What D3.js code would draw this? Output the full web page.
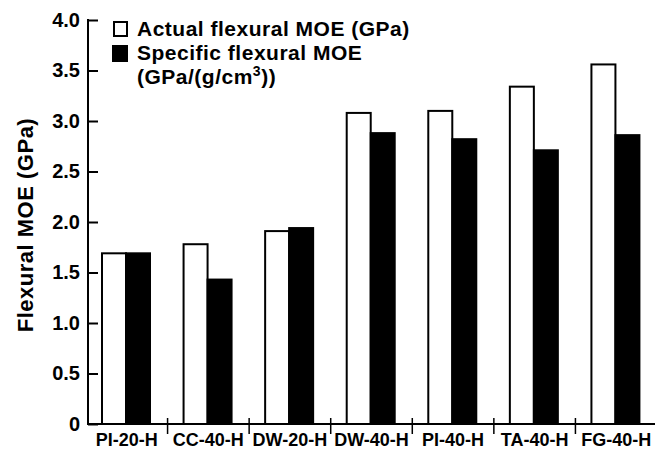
<!DOCTYPE html>
<html>
<head>
<meta charset="utf-8">
<script src="https://cdn.jsdelivr.net/npm/d3@7"></script>
<style>
  body { margin: 0; background: #fff; }
  svg { display: block; font-family: "Liberation Sans", Arial, sans-serif; }
</style>
</head>
<body>
<svg id="chart"></svg>
<script>
// data
var categories = ["PI-20-H", "CC-40-H", "DW-20-H", "DW-40-H", "PI-40-H", "TA-40-H", "FG-40-H"];
var seriesNames = ["actual", "specific"];
var actualMOE = [1.69, 1.78, 1.91, 3.08, 3.10, 3.34, 3.56];
var specificMOE = [1.69, 1.43, 1.94, 2.88, 2.82, 2.71, 2.86];
var yTicks = [0, 0.5, 1.0, 1.5, 2.0, 2.5, 3.0, 3.5, 4.0];

var width = 661, height = 458;

var svg = d3.select('#chart')
    .attr("width", width)
    .attr("height", height);

// scales
var x0 = d3.scaleBand().domain(categories).range([86, 657]);
var x1 = d3.scaleBand().domain(seriesNames).range([16, 64]);
var y = d3.scaleLinear().domain([0, 4]).range([424, 20]);

// bars
var rows = categories.map(function(c, i) {
    return {cat: c, actual: actualMOE[i], specific: specificMOE[i]};
});

var groups = svg.append("g").selectAll("g")
    .data(rows)
    .enter().append("g")
    .attr("transform", function(d) { return "translate(" + x0(d.cat) + ",0)"; });

groups.selectAll("rect")
    .data(function(d) { return seriesNames.map(function(s) { return {key: s, value: d[s]}; }); })
    .enter().append("rect")
    .attr("x", function(d) { return x1(d.key); })
    .attr("y", function(d) { return y(d.value); })
    .attr("width", x1.bandwidth())
    .attr("height", function(d) { return y(0) - y(d.value); })
    .attr("fill", function(d) { return d.key == "actual" ? "#fff" : "#000"; })
    .attr("stroke", "#000")
    .attr("stroke-width", 2);

// y axis
var yAxis = svg.append("g")
    .attr("transform", "translate(88,0)")
    .call(d3.axisLeft(y)
        .tickValues(yTicks)
        .tickSize(-10)
        .tickPadding(8)
        .tickFormat(function(d) { return d == 0 ? "0" : d3.format(".1f")(d); }));
yAxis.select(".domain").remove();
yAxis.selectAll("line").attr("stroke-width", 2);
yAxis.selectAll("text")
    .attr("font-size", 20)
    .attr("font-weight", "bold")
    .attr("font-family", "Liberation Sans, Arial, sans-serif")
    .attr("fill", "#000");
yAxis.append("line")
    .attr("x1", 0).attr("x2", 0)
    .attr("y1", y(4) - 1).attr("y2", y(0) + 1)
    .attr("stroke", "#000").attr("stroke-width", 2);

// x axis
var xAxis = svg.append("g")
    .attr("transform", "translate(0," + y(0) + ")")
    .call(d3.axisBottom(x0).tickSize(0).tickPadding(9));
xAxis.select(".domain").remove();
xAxis.selectAll("text")
    .attr("font-size", 18)
    .attr("font-weight", "bold")
    .attr("font-family", "Liberation Sans, Arial, sans-serif")
    .attr("fill", "#000");
xAxis.append("line")
    .attr("x1", 87).attr("x2", 655)
    .attr("y1", 0).attr("y2", 0)
    .attr("stroke", "#000").attr("stroke-width", 2);
xAxis.selectAll(".sep")
    .data(categories.slice(1))
    .enter().append("line")
    .attr("class", "sep")
    .attr("x1", function(d) { return x0(d); })
    .attr("x2", function(d) { return x0(d); })
    .attr("y1", -6).attr("y2", 10)
    .attr("stroke", "#000").attr("stroke-width", 1.5);

// y label
svg.append("text")
    .attr("transform", "translate(33,225) rotate(-90)")
    .attr("text-anchor", "middle")
    .attr("font-size", 22)
    .attr("font-weight", "bold")
    .attr("letter-spacing", 0.5)
    .text("Flexural MOE (GPa)");

// legend
var legend = svg.append("g");
legend.append("rect")
    .attr("x", 114).attr("y", 22).attr("width", 13).attr("height", 14)
    .attr("fill", "#fff").attr("stroke", "#000").attr("stroke-width", 2);
legend.append("rect")
    .attr("x", 112).attr("y", 45).attr("width", 16).attr("height", 17)
    .attr("fill", "#000");
var legendFont = 21;
legend.append("text")
    .attr("x", 137).attr("y", 36)
    .attr("font-size", legendFont)
    .attr("font-weight", "bold")
    .attr("letter-spacing", 0.5)
    .text("Actual flexural MOE (GPa)");
legend.append("text")
    .attr("x", 137).attr("y", 60)
    .attr("font-size", legendFont)
    .attr("font-weight", "bold")
    .attr("letter-spacing", 0.5)
    .text("Specific flexural MOE");
var unit = legend.append("text")
    .attr("x", 137).attr("y", 84)
    .attr("font-size", legendFont)
    .attr("font-weight", "bold")
    .attr("letter-spacing", 0.5);
unit.append("tspan").text("(GPa/(g/cm");
unit.append("tspan").attr("dy", -8).attr("font-size", 14).text("3");
unit.append("tspan").attr("dy", 8).text("))");
</script>
</body>
</html>
